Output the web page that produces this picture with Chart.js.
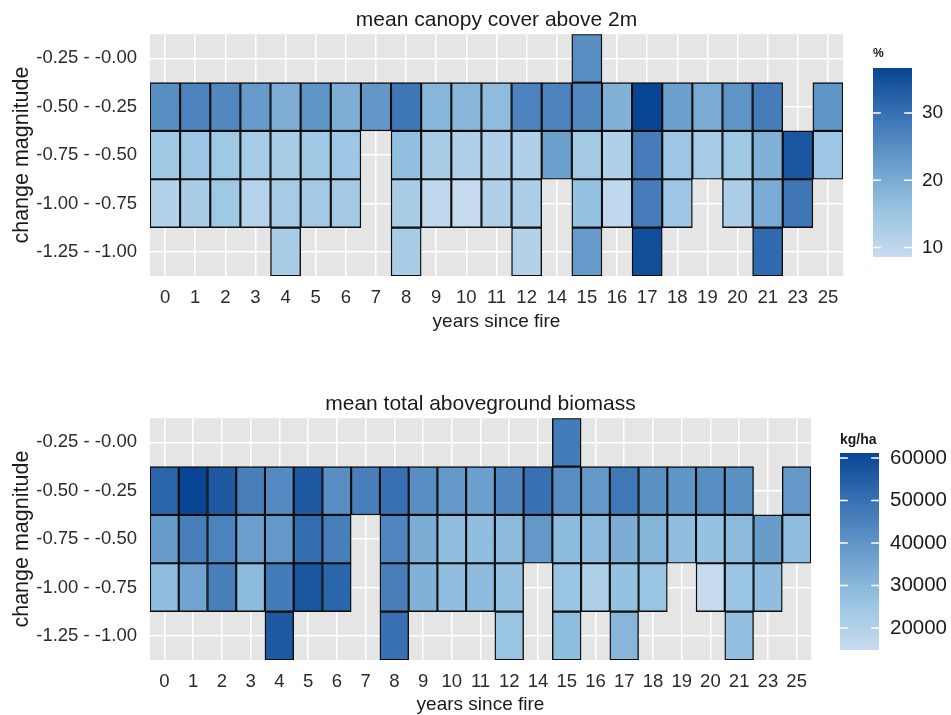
<!DOCTYPE html>
<html><head><meta charset="utf-8">
<script src="https://cdn.jsdelivr.net/npm/chart.js@4.4.1/dist/chart.umd.min.js"></script>
<style>
html,body{margin:0;padding:0;background:#fff;overflow:hidden;width:951px;height:715px}
.wrap{position:absolute;left:0;width:951px}
#w1{top:0;height:335px}
#w2{top:372px;height:343px}
canvas{display:block}
</style></head><body>
<div class="wrap" id="w1"><canvas id="c1" width="951" height="335"></canvas></div>
<div class="wrap" id="w2"><canvas id="c2" width="951" height="343"></canvas></div>
<script>
// ---------- DATA ----------
const years = ['0','1','2','3','4','5','6','7','8','9','10','11','12','14','15','16','17','18','19','20','21','23','25'];
// row position -> label (5 = top row)
const rowLabels = ['-1.25 - -1.00','-1.00 - -0.75','-0.75 - -0.50','-0.50 - -0.25','-0.25 - -0.00'];

// mean canopy cover above 2m (%), one array per change-magnitude row
const canopyR000 = [null,null,null,null,null,null,null,null,null,null,null,null,null,null,25,null,null,null,null,null,null,null,null];
const canopyR025 = [25,27,26,23,19.5,24,19.5,23.5,29,18,18,17,27,27,26,19,36.7,22,20,24,28,null,24];
const canopyR050 = [14.5,15,14.5,13.5,13,14.5,15,null,16.5,13,12,12,12,22,14,12,28,15,13.5,14.5,19,34,15];
const canopyR075 = [11.5,13,14.5,11,13.5,14,14,null,13,9.5,8.6,12,12.5,null,16,9.5,28,15,null,12.5,20,29,null];
const canopyR100 = [null,null,null,null,13,null,null,null,13,null,null,null,11.5,null,23,null,35.5,null,null,null,31,null,null];
const canopyTicks = [10,20,30];

// mean total aboveground biomass (kg/ha)
const bioR000 = [null,null,null,null,null,null,null,null,null,null,null,null,null,null,47000,null,null,null,null,null,null,null,null];
const bioR025 = [53000,61200,56000,46000,43000,56000,42000,46000,50000,42000,39000,37000,44000,50000,42000,39000,48000,41000,40000,42000,41000,null,39000];
const bioR050 = [38000,46000,45000,37000,39000,51000,46000,null,44000,33000,28000,28000,29000,39000,29000,29000,33000,31000,28000,27000,29000,38000,28000];
const bioR075 = [28000,36000,46000,29000,47000,57000,53000,null,46000,32000,28000,29000,27000,null,26000,21000,27000,26000,null,14800,26000,28000,null];
const bioR100 = [null,null,null,null,56000,null,null,null,50000,null,null,null,26000,null,28500,null,30500,null,null,null,27500,null,null];
const bioTicks = [20000,30000,40000,50000,60000];

// ---------- colour scale ----------
const STOPS = [[0,[198,219,239]],[0.25,[152,196,226]],[0.5,[104,156,203]],[0.75,[58,114,180]],[1,[8,69,148]]];
function colorFor(v,min,max){let t=(v-min)/(max-min);t=Math.max(0,Math.min(1,t));
  let i=0;while(i<STOPS.length-2&&t>STOPS[i+1][0])i++;
  const [t0,c0]=STOPS[i],[t1,c1]=STOPS[i+1];const u=(t-t0)/(t1-t0);
  const c=c0.map((x,k)=>Math.round(x+(c1[k]-x)*u));return `rgb(${c[0]},${c[1]},${c[2]})`;}

const FONT = '"Liberation Sans", Arial, Helvetica, sans-serif';

const panelBg = {id:'panelBg', beforeDraw(chart){const a=chart.chartArea,ctx=chart.ctx;ctx.save();ctx.fillStyle='#e5e5e5';ctx.fillRect(a.left,a.top,a.right-a.left,a.bottom-a.top);ctx.restore();}};
const colorbar = {id:'colorbar', afterDraw(chart,args,o){
  const ctx=chart.ctx;ctx.save();
  const {x,y,w,h,min,max,ticks}=o;
  for(let i=0;i<h;i++){const v=max-(i+0.5)/h*(max-min);ctx.fillStyle=colorFor(v,min,max);ctx.fillRect(x,y+i,w,1);}
  ctx.strokeStyle='#fff';ctx.lineWidth=1.5;ctx.fillStyle='#1a1a1a';ctx.font=`${o.labelSize}px ${FONT}`;ctx.textBaseline='middle';ctx.textAlign='left';
  ticks.forEach(t=>{const py=y+(max-t)/(max-min)*h;ctx.beginPath();ctx.moveTo(x,py);ctx.lineTo(x+w*0.2,py);ctx.moveTo(x+w*0.8,py);ctx.lineTo(x+w,py);ctx.stroke();
    ctx.fillText(String(t),x+w+o.gap,py);});
  ctx.font=`bold ${o.titleSize}px ${FONT}`;ctx.textBaseline='middle';ctx.fillText(o.title,x,o.titleY);
  ctx.restore();}};

function makeDatasets(rows,min,max){
  return rows.map(([pos,arr])=>({
    data: arr.map(v=>v==null?null:[pos-0.5,pos+0.5]),
    backgroundColor: arr.map(v=>v==null?'rgba(0,0,0,0)':colorFor(v,min,max)),
    borderColor:'#0d0d0d', borderWidth:1.4, borderSkipped:false,
    barPercentage:1, categoryPercentage:1, grouped:false
  }));
}

function build(canvas,cfg){
  const all=cfg.rows.flatMap(r=>r[1]).filter(v=>v!=null);
  const min=Math.min(...all), max=Math.max(...all);
  return new Chart(canvas,{
    type:'bar',
    data:{labels:years, datasets:makeDatasets(cfg.rows,min,max)},
    plugins:[panelBg,colorbar],
    options:{
      responsive:false, animation:false, devicePixelRatio:1,
      layout:{padding:{left:0,right:cfg.rightPad,top:0,bottom:0}},
      plugins:{
        legend:{display:false}, tooltip:{enabled:false},
        title:{display:true,fullSize:false,text:cfg.title,color:'#1a1a1a',font:{family:FONT,size:21,weight:'normal'},padding:{top:cfg.titleTop,bottom:cfg.titleBottom}},
        colorbar:Object.assign({min,max},cfg.bar)
      },
      scales:{
        x:{type:'category',offset:true,
          grid:{offset:false,color:'#ffffff',lineWidth:1.5,drawTicks:false},
          border:{display:false},
          ticks:{padding:11,color:'#2b2b2b',font:{family:FONT,size:18.5},maxRotation:0,autoSkip:false},
          title:{display:true,text:'years since fire',color:'#1a1a1a',font:{family:FONT,size:19,lineHeight:1},padding:{top:0,bottom:cfg.xTitleBottom}},
          afterFit:s=>{s.height=cfg.xHeight;}},
        y:{type:'linear',min:0.5,max:5.5,
          afterBuildTicks:s=>{s.ticks=[1,2,3,4,5].map(v=>({value:v}));},
          grid:{color:'#ffffff',lineWidth:1.5,drawTicks:false},
          border:{display:false},
          ticks:{padding:13,color:'#2b2b2b',font:{family:FONT,size:18.5},callback:v=>rowLabels[v-1]},
          title:{display:true,text:'change magnitude',color:'#1a1a1a',font:{family:FONT,size:21.5},padding:{top:9,bottom:0}},
          afterFit:s=>{s.width=150;}}
      }
    }
  });
}

build(document.getElementById('c1'),{
  title:'mean canopy cover above 2m', rightPad:108, titleTop:8, titleBottom:1, xHeight:59, xTitleBottom:4,
  rows:[[5,canopyR000],[4,canopyR025],[3,canopyR050],[2,canopyR075],[1,canopyR100]],
  bar:{x:873,y:68,w:39,h:189,ticks:canopyTicks,title:'%',titleY:54,labelSize:19,titleSize:12,gap:10}
});
build(document.getElementById('c2'),{
  title:'mean total aboveground biomass', rightPad:140, titleTop:20, titleBottom:1, xHeight:55, xTitleBottom:1,
  rows:[[5,bioR000],[4,bioR025],[3,bioR050],[2,bioR075],[1,bioR100]],
  bar:{x:840,y:81,w:39,h:197,ticks:bioTicks,title:'kg/ha',titleY:68,labelSize:20.5,titleSize:14,gap:11}
});
</script>
</body></html>
